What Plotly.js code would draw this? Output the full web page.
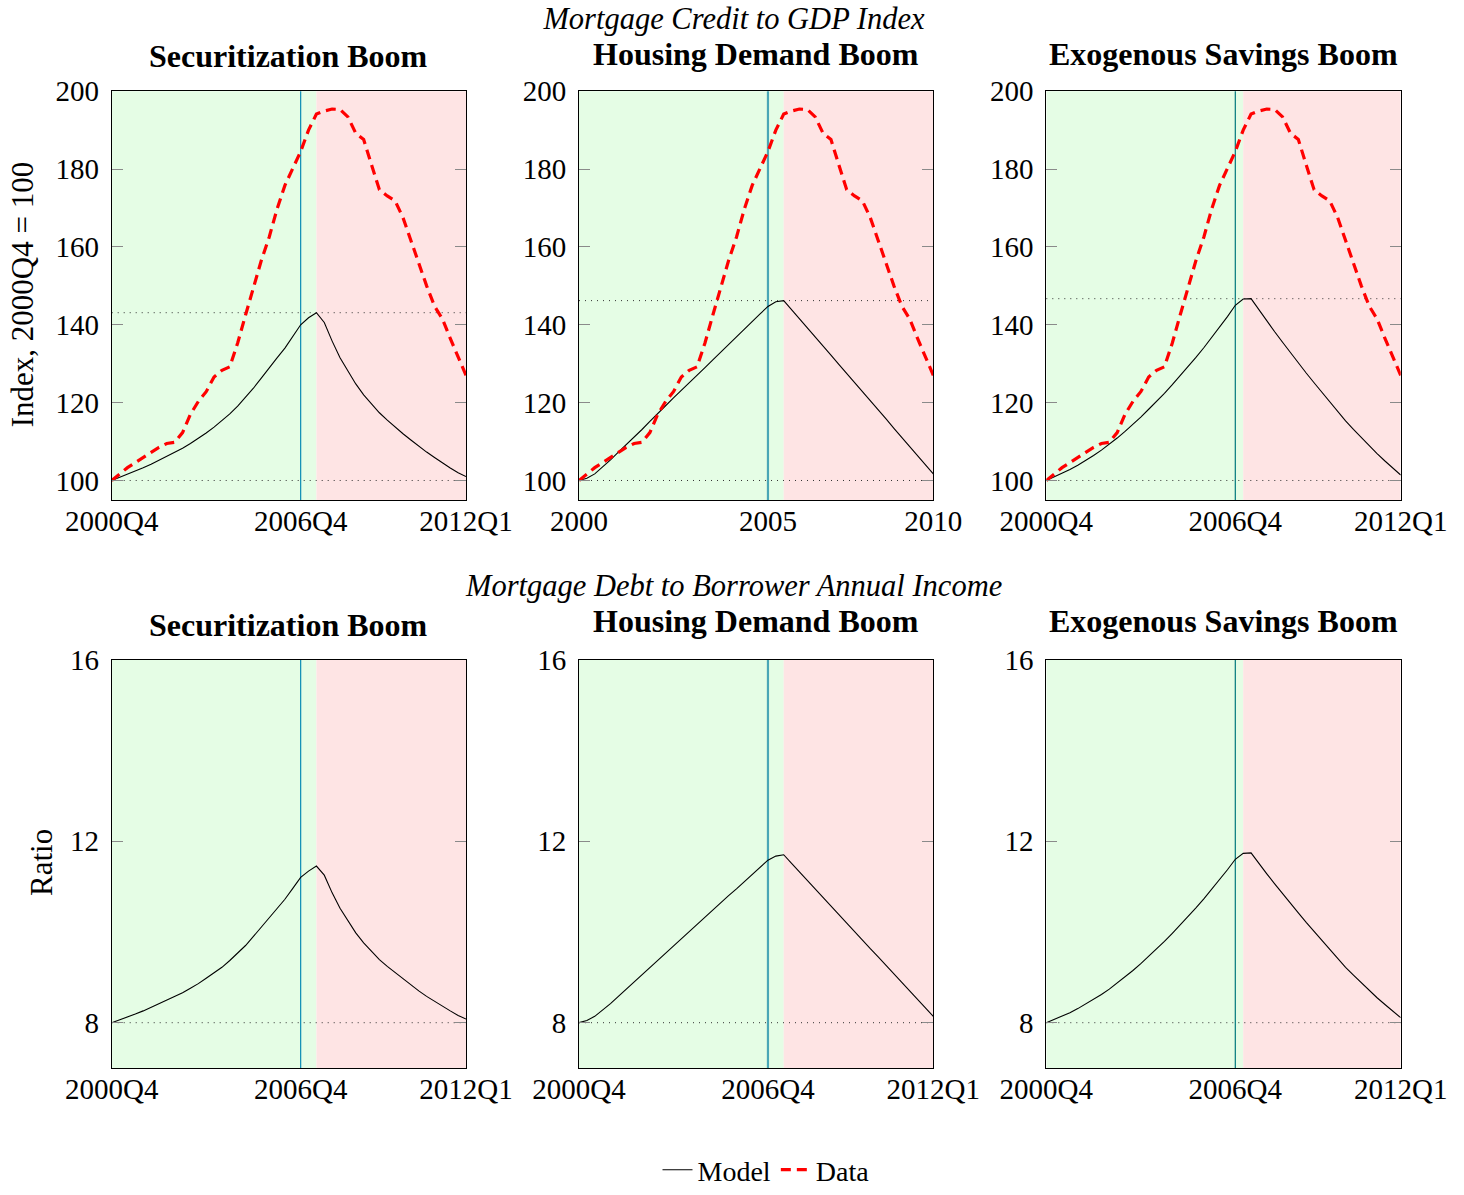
<!DOCTYPE html>
<html>
<head>
<meta charset="utf-8">
<script src="https://cdn.plot.ly/plotly-3.0.1.min.js"></script>
<style>
html,body{margin:0;padding:0;background:#fff;width:1464px;height:1195px;overflow:hidden;}
#chart{width:1464px;height:1195px;display:block;overflow:hidden;}
</style>
</head>
<body>
<div id="chart"></div>
<script>
// ---------------- DATA ----------------
const quarters = ['2000Q4',
  '2001Q1','2001Q2','2001Q3','2001Q4','2002Q1','2002Q2','2002Q3','2002Q4',
  '2003Q1','2003Q2','2003Q3','2003Q4','2004Q1','2004Q2','2004Q3','2004Q4',
  '2005Q1','2005Q2','2005Q3','2005Q4','2006Q1','2006Q2','2006Q3','2006Q4',
  '2007Q1','2007Q2','2007Q3','2007Q4','2008Q1','2008Q2','2008Q3','2008Q4',
  '2009Q1','2009Q2','2009Q3','2009Q4','2010Q1','2010Q2','2010Q3','2010Q4',
  '2011Q1','2011Q2','2011Q3','2011Q4','2012Q1'];

const panelTitles = ['Securitization Boom', 'Housing Demand Boom', 'Exogenous Savings Boom'];
const rowTitles = ['Mortgage Credit to GDP Index', 'Mortgage Debt to Borrower Annual Income'];
const yTitles = ['Index, 2000Q4 = 100', 'Ratio'];

// x tick labels per panel
const tickQuarters = ['2000Q4', '2006Q4', '2012Q1'];
const tickTextQuarters = ['2000Q4', '2006Q4', '2012Q1'];
const tickTextYears = ['2000', '2005', '2010'];

const topYTicks = [100, 120, 140, 160, 180, 200];
const bottomYTicks = [8, 12, 16];

// Data: mortgage credit to GDP index (same in all three top panels)
const creditData = [100.0, 101.7, 103.3, 104.6, 105.9, 107.2, 108.5, 109.5, 109.8, 112.3,
  117.0, 120.3, 122.8, 126.6, 128.3, 129.2, 135.3, 142.5, 149.3, 156.5,
  162.5, 169.7, 175.8, 180.3, 184.5, 190.0, 194.1, 194.9, 195.4, 195.3,
  193.4, 189.2, 187.6, 181.1, 174.7, 173.1, 171.8, 167.5, 161.5, 155.5,
  150.0, 144.8, 141.5, 136.5, 131.5, 127.0];

// Model: credit index
const creditSecuritization = [100.0, 100.8, 101.5, 102.4, 103.3, 104.2, 105.2, 106.2, 107.2, 108.3,
  109.5, 110.8, 112.2, 113.7, 115.3, 117.1, 119.1, 121.3, 123.7, 126.3,
  129.0, 131.5, 134.0, 137.0, 140.0, 141.8, 143.1, 140.6, 135.8, 131.5,
  128.0, 124.8, 122.0, 119.6, 117.4, 115.5, 113.7, 112.0, 110.4, 108.8,
  107.3, 105.9, 104.5, 103.2, 102.0, 101.0];
const creditHousingDemand = [100.0, 100.6, 101.7, 103.4, 105.3, 107.3, 109.2, 111.2, 113.1, 115.2,
  117.1, 119.2, 121.2, 123.1, 125.0, 127.0, 129.0, 131.0, 133.0, 135.0,
  136.9, 138.9, 140.9, 142.8, 144.7, 145.9, 146.2, 143.9, 141.5, 139.2,
  136.8, 134.5, 132.2, 129.8, 127.5, 125.1, 122.8, 120.4, 118.1, 115.8,
  113.4, 111.1, 108.7, 106.4, 104.0, 101.7];
const creditExogenousSavings = [100.0, 100.9, 101.8, 102.8, 103.9, 105.1, 106.4, 107.8, 109.3, 110.9,
  112.6, 114.4, 116.3, 118.3, 120.3, 122.4, 124.6, 126.9, 129.2, 131.6,
  134.1, 136.7, 139.3, 142.1, 145.0, 146.6, 146.7, 143.8, 141.0, 138.2,
  135.5, 132.8, 130.2, 127.6, 125.1, 122.6, 120.1, 117.6, 115.3, 113.1,
  111.0, 108.9, 106.9, 105.0, 103.2, 101.4];

// Model: mortgage debt to borrower annual income
const ratioSecuritization = [8.00, 8.06, 8.12, 8.19, 8.26, 8.34, 8.42, 8.50, 8.58, 8.66,
  8.76, 8.86, 8.98, 9.10, 9.22, 9.37, 9.53, 9.70, 9.90, 10.10,
  10.32, 10.52, 10.72, 10.96, 11.20, 11.34, 11.45, 11.25, 10.86, 10.52,
  10.24, 9.98, 9.76, 9.57, 9.39, 9.24, 9.10, 8.96, 8.83, 8.70,
  8.58, 8.47, 8.36, 8.26, 8.16, 8.08];
const ratioHousingDemand = [8.00, 8.05, 8.14, 8.27, 8.42, 8.58, 8.74, 8.90, 9.05, 9.22,
  9.37, 9.54, 9.70, 9.85, 10.00, 10.16, 10.32, 10.48, 10.64, 10.80,
  10.95, 11.11, 11.27, 11.42, 11.58, 11.67, 11.70, 11.51, 11.32, 11.14,
  10.94, 10.76, 10.58, 10.38, 10.20, 10.01, 9.82, 9.63, 9.45, 9.26,
  9.07, 8.89, 8.70, 8.51, 8.32, 8.14];
const ratioExogenousSavings = [8.00, 8.07, 8.14, 8.22, 8.31, 8.41, 8.51, 8.62, 8.74, 8.87,
  9.01, 9.15, 9.30, 9.46, 9.62, 9.79, 9.97, 10.15, 10.34, 10.53,
  10.73, 10.94, 11.14, 11.37, 11.60, 11.73, 11.74, 11.50, 11.28, 11.06,
  10.84, 10.62, 10.42, 10.21, 10.01, 9.81, 9.61, 9.41, 9.22, 9.05,
  8.88, 8.71, 8.55, 8.40, 8.26, 8.11];

// Periods: boom shaded until these quarters, vertical marker at 2006Q4
const boomEnd = ['2007Q2', '2007Q2', '2007Q1'];
const markerQuarter = '2006Q4';
const baseIndex = 100;
const baseRatio = 8;

// ---------------- STYLE ----------------
const FONT = 'Liberation Serif, Times New Roman, serif';
const GREEN = 'rgb(229,253,229)';
const RED = 'rgb(254,228,228)';
const markerColors = ['#0a8cb4', '#4aa6b6', '#00787c'];
const markerWidths = [1.2, 2.2, 1.2];

const W = 1464, H = 1195;
const py = y => 1 - y / H;
const xDom = [[111.7 / W, 466 / W], [579 / W, 933.3 / W], [1046.3 / W, 1400.7 / W]];
const yDomTop = [py(505), py(92)];
const yDomBot = [py(1078), py(665.7)];

const topModels = [creditSecuritization, creditHousingDemand, creditExogenousSavings];
const botModels = [ratioSecuritization, ratioHousingDemand, ratioExogenousSavings];

const traces = [];
const shapes = [];
const annotations = [];
const layout = {
  width: W, height: H, autosize: false,
  margin: {l: 0, r: 0, t: 0, b: 0, pad: 0},
  paper_bgcolor: 'white', plot_bgcolor: 'white',
  font: {family: FONT, size: 29, color: 'black'},
  title: {text: '<i>' + rowTitles[0] + '</i>', x: 734 / W, xref: 'paper', xanchor: 'center',
          y: py(18.5), yref: 'paper', yanchor: 'middle', font: {family: FONT, size: 30.5, color: 'black'}},
  showlegend: true,
  legend: {orientation: 'h', x: 766 / W, xanchor: 'center', y: py(1181), yanchor: 'middle',
           font: {family: FONT, size: 28, color: 'black'}, bgcolor: 'rgba(0,0,0,0)'},
  shapes: shapes,
  annotations: annotations
};

function axisX(domain, anchor, ticktext) {
  return {
    domain: domain, anchor: anchor, type: 'category', range: [0, quarters.length - 1],
    tickmode: 'array', tickvals: tickQuarters, ticktext: ticktext,
    showline: true, linecolor: 'black', linewidth: 1, mirror: true,
    ticks: '', showgrid: false, zeroline: false, ticklabelstandoff: -5,
    tickfont: {family: FONT, size: 29, color: 'black'}, fixedrange: true
  };
}
function axisY(domain, anchor, range, tickvals) {
  return {
    domain: domain, anchor: anchor, range: range,
    tickmode: 'array', tickvals: tickvals,
    showline: true, linecolor: 'black', linewidth: 1, mirror: 'ticks',
    ticks: 'inside', ticklen: 11, tickwidth: 1, tickcolor: '#8a8a8a',
    showgrid: false, zeroline: false, ticklabelstandoff: 6,
    tickfont: {family: FONT, size: 29, color: 'black'}, fixedrange: true
  };
}

for (let row = 0; row < 2; row++) {
  for (let col = 0; col < 3; col++) {
    const n = row * 3 + col + 1;
    const xa = 'x' + (n === 1 ? '' : n);
    const ya = 'y' + (n === 1 ? '' : n);
    const xKey = 'xaxis' + (n === 1 ? '' : n);
    const yKey = 'yaxis' + (n === 1 ? '' : n);
    const ticktext = (row === 0 && col === 1) ? tickTextYears : tickTextQuarters;
    layout[xKey] = axisX(xDom[col], ya, ticktext);
    if (row === 0) {
      layout[yKey] = axisY(yDomTop, xa, [94.9, 200], topYTicks);
    } else {
      layout[yKey] = axisY(yDomBot, xa, [7, 16], bottomYTicks);
    }
    const model = row === 0 ? topModels[col] : botModels[col];

    // shading
    shapes.push({type: 'rect', xref: xa, yref: ya + ' domain', x0: quarters[0], x1: boomEnd[col], y0: 0, y1: 1,
                 fillcolor: GREEN, line: {width: 0}, layer: 'below'});
    shapes.push({type: 'rect', xref: xa, yref: ya + ' domain', x0: boomEnd[col], x1: quarters[quarters.length - 1], y0: 0, y1: 1,
                 fillcolor: RED, line: {width: 0}, layer: 'below'});
    // dotted reference lines
    const base = row === 0 ? baseIndex : baseRatio;
    shapes.push({type: 'line', xref: xa + ' domain', yref: ya, x0: 0, x1: 1, y0: base, y1: base,
                 line: {color: '#333', width: 1, dash: '1px,5px'}, layer: 'below'});
    if (row === 0) {
      const peak = Math.max.apply(null, model);
      shapes.push({type: 'line', xref: xa + ' domain', yref: ya, x0: 0, x1: 1, y0: peak, y1: peak,
                   line: {color: '#333', width: 1, dash: '1px,5px'}, layer: 'below'});
    }
    // vertical marker
    shapes.push({type: 'line', xref: xa, yref: ya + ' domain', x0: markerQuarter, x1: markerQuarter, y0: 0, y1: 1,
                 line: {color: markerColors[col], width: markerWidths[col]}, layer: 'below'});

    traces.push({type: 'scatter', mode: 'lines', x: quarters, y: model, xaxis: xa, yaxis: ya,
                 name: 'Model', legendgroup: 'model', showlegend: n === 1,
                 line: {color: 'black', width: 1.1}, hoverinfo: 'skip'});
    if (row === 0) {
      traces.push({type: 'scatter', mode: 'lines', x: quarters, y: creditData, xaxis: xa, yaxis: ya,
                   name: 'Data', legendgroup: 'data', showlegend: n === 1,
                   line: {color: '#ff0000', width: 3.2, dash: '10px,6px'}, hoverinfo: 'skip'});
    }

    // panel title
    const cx = (xDom[col][0] + xDom[col][1]) / 2;
    const ty = row === 0 ? (col === 0 ? 57 : 54) : (col === 0 ? 631 : 627);
    annotations.push({text: '<b>' + panelTitles[col] + '</b>', xref: 'paper', yref: 'paper',
                      x: cx, y: py(ty), xanchor: 'center', yanchor: 'middle', showarrow: false,
                      font: {family: FONT, size: 32, color: 'black'}});
  }
}

// second row title
annotations.push({text: '<i>' + rowTitles[1] + '</i>', xref: 'paper', yref: 'paper',
                  x: 734 / W, y: py(591), xanchor: 'center', yanchor: 'middle', showarrow: false,
                  font: {family: FONT, size: 30.5, color: 'black'}});
// y axis titles
annotations.push({text: yTitles[0], xref: 'paper', yref: 'paper', x: 22 / W, y: py(298),
                  xanchor: 'center', yanchor: 'middle', textangle: -90, showarrow: false,
                  font: {family: FONT, size: 31, color: 'black'}});
annotations.push({text: yTitles[1], xref: 'paper', yref: 'paper', x: 42 / W, y: py(871),
                  xanchor: 'center', yanchor: 'middle', textangle: -90, showarrow: false,
                  font: {family: FONT, size: 31, color: 'black'}});

Plotly.newPlot('chart', traces, layout, {staticPlot: true, displayModeBar: false});
</script>
</body>
</html>
